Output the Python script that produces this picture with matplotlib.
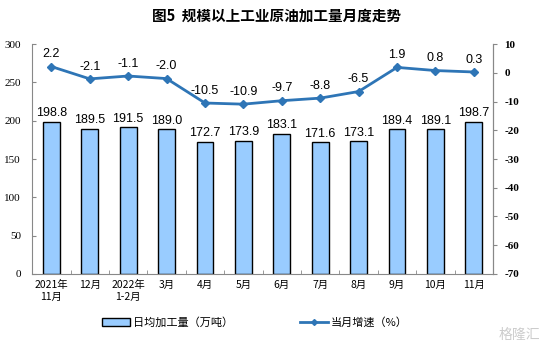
import matplotlib
matplotlib.use("Agg")
import matplotlib.pyplot as plt
import numpy as np

plt.rcParams['font.family'] = ['Noto Sans CJK SC', 'DejaVu Sans']

categories = ["2021年\n11月", "12月", "2022年\n1-2月", "3月", "4月", "5月", "6月", "7月", "8月", "9月", "10月", "11月"]
output = [198.8, 189.5, 191.5, 189.0, 172.7, 173.9, 183.1, 171.6, 173.1, 189.4, 189.1, 198.7]
growth = [2.2, -2.1, -1.1, -2.0, -10.5, -10.9, -9.7, -8.8, -6.5, 1.9, 0.8, 0.3]

fig = plt.figure(figsize=(5.54, 3.53), dpi=100)
ax = fig.add_axes([0.058, 0.224, 0.832, 0.651])
x = np.arange(len(categories))
bars = ax.bar(x, output, width=0.44, color="#99CCFF", edgecolor="black", linewidth=1.0, zorder=2)
ax.set_ylim(0, 300)
ax.set_xlim(-0.5, len(categories) - 0.5)
ax.set_yticks(np.arange(0, 301, 50))
ax.set_yticklabels([str(v) for v in range(0, 301, 50)], family='Liberation Serif', fontsize=8)
ax.set_xticks(x)
ax.set_xticklabels(categories, fontsize=7.5, linespacing=1.3)
ax.tick_params(axis='x', length=0, pad=4)
ax.set_xticks(np.arange(-0.5, len(categories), 1), minor=True)
ax.tick_params(axis='x', which='minor', length=3, direction='in', color='#888888')
ax.tick_params(axis='y', length=3, direction='in', color='#888888', pad=8)
ax.spines['top'].set_visible(False)
for s in ['left', 'bottom', 'right']:
    ax.spines[s].set_color('#888888')

for xi, v in zip(x, output):
    ax.text(xi, v + 3, f"{v:.1f}", ha='center', va='bottom', fontsize=9, family='Liberation Sans')

ax2 = ax.twinx()
ax2.plot(x, growth, color="#2E75B6", linewidth=2, marker='D', markersize=4.5, zorder=3, label="当月增速（%）")
ax2.set_ylim(-70, 10)
ax2.set_yticks(np.arange(-70, 11, 10))
ax2.set_yticklabels([str(v) for v in range(-70, 11, 10)], family='Liberation Serif', fontsize=8, fontweight='bold')
ax2.tick_params(axis='y', length=3, direction='out', color='#888888', pad=5)
ax2.spines['top'].set_visible(False)
ax2.spines['right'].set_color('#888888')
ax2.spines['left'].set_visible(False)
ax2.spines['bottom'].set_visible(False)
for xi, g in zip(x, growth):
    ax2.text(xi, g + 2.2, f"{g:.1f}", ha='center', va='bottom', fontsize=9, family='Liberation Sans')

fig.text(0.5, 0.955, "图5  规模以上工业原油加工量月度走势", ha='center', va='center', fontsize=10.5, fontweight='bold')

from matplotlib.patches import Patch
from matplotlib.lines import Line2D
handles = [Patch(facecolor="#99CCFF", edgecolor="black", linewidth=1.0),
           Line2D([0], [0], color="#2E75B6", linewidth=2, marker='D', markersize=3)]
fig.legend(handles, ["日均加工量（万吨）", "当月增速（%）"], loc='center', bbox_to_anchor=(0.46, 0.087),
           ncol=2, frameon=False, fontsize=8, columnspacing=6, handlelength=2.5, handletextpad=0.3)

fig.text(0.975, 0.05, "格隆汇", ha='right', va='center', fontsize=10, color='#cccccc')

fig.savefig("out.png", dpi=100)
